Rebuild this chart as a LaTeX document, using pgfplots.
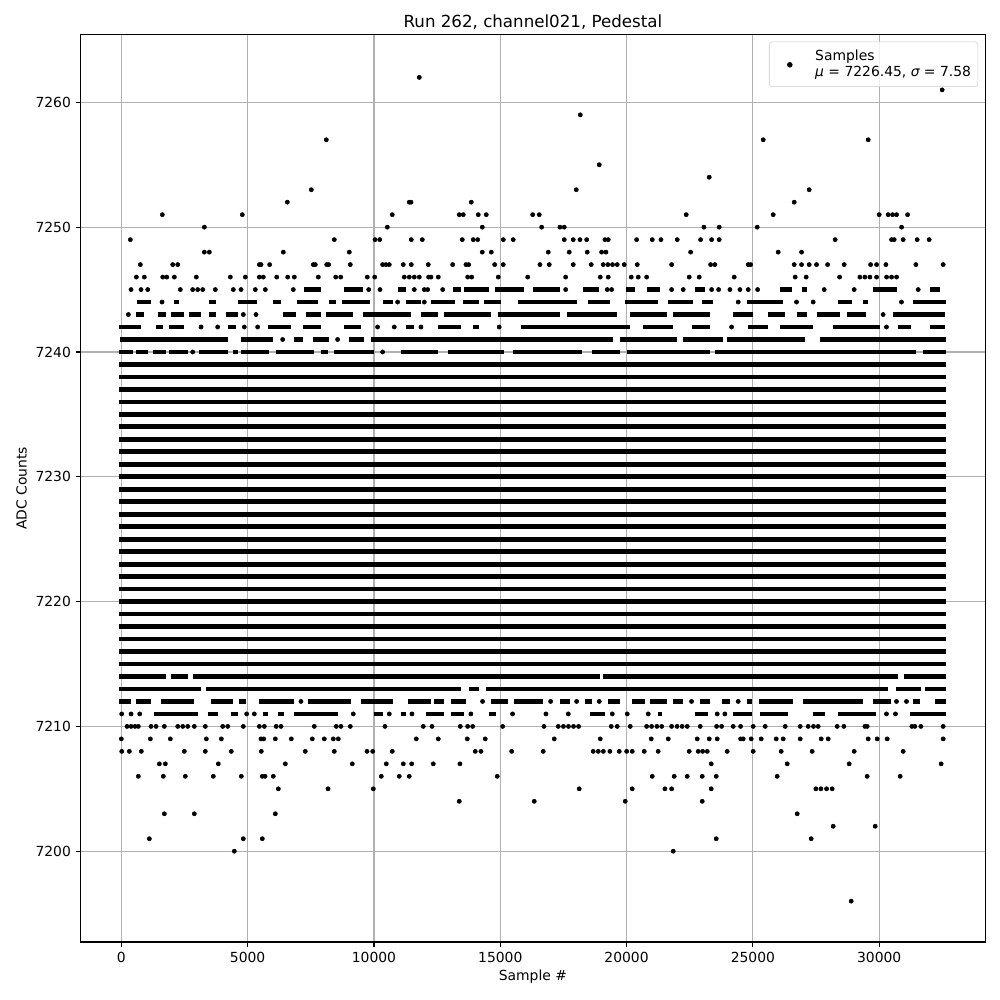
\documentclass[border=0pt]{standalone}
\usepackage{fontspec}
\setmainfont{DejaVu Sans}
\usepackage{pgfplots}
\pgfplotsset{compat=1.18}
\definecolor{gridgray}{HTML}{B0B0B0}
\definecolor{leggray}{HTML}{CCCCCC}
\begin{document}
\begin{tikzpicture}
\begin{axis}[
  name=ax, at={(0,0)}, anchor=south west,
  scale only axis, width=651.3pt, height=653.3pt,
  xmin=-1610, xmax=34195, ymin=7192.73, ymax=7265.42,
  xtick={0,5000,...,30000}, ytick={7200,7210,...,7260},
  scaled x ticks=false, scaled y ticks=false,
  /pgf/number format/1000 sep={},
  /pgf/number format/assume math mode=true,
  tick label style={font=\fontsize{10}{12}\selectfont},
  tick align=outside, major tick length=3.5pt,
  tick style={black, line width=0.8pt},
  axis line style={line width=0.8pt},
  tick pos=left,
  grid=major, major grid style={gridgray, line width=0.8pt},
  title={Run 262, channel021, Pedestal},
  title style={font=\fontsize{12}{14}\selectfont, at={(axis description cs:0.5,1)}, anchor=base, yshift=-1pt},
  xlabel={Sample \#}, ylabel={ADC Counts},
  xlabel style={font=\fontsize{10}{12}\selectfont, at={([yshift=-27.4pt]axis description cs:0.5,0)}, anchor=base},
  ylabel style={font=\fontsize{10}{12}\selectfont, at={([xshift=-38.9pt]axis description cs:0,0.5)}, anchor=base},
  legend style={at={(axis description cs:0.9923,0.9923)}, anchor=north east, draw=leggray, rounded corners=2pt, fill=white, fill opacity=0.8, text opacity=1, font=\fontsize{10}{12}\selectfont, inner ysep=3.6pt, row sep=-1pt},
  legend cell align=left,
]
% dense rows 7215..7239
\addplot[black, line width=3.4pt, no marks, unbounded coords=jump, forget plot] coordinates {
(-94,7215)(32650,7215)(nan,nan)(-94,7216)(32650,7216)(nan,nan)(-94,7217)(32650,7217)(nan,nan)
(-94,7218)(32650,7218)(nan,nan)(-94,7219)(32650,7219)(nan,nan)(-94,7220)(32650,7220)(nan,nan)
(-94,7221)(32650,7221)(nan,nan)(-94,7222)(32650,7222)(nan,nan)(-94,7223)(32650,7223)(nan,nan)
(-94,7224)(32650,7224)(nan,nan)(-94,7225)(32650,7225)(nan,nan)(-94,7226)(32650,7226)(nan,nan)
(-94,7227)(32650,7227)(nan,nan)(-94,7228)(32650,7228)(nan,nan)(-94,7229)(32650,7229)(nan,nan)
(-94,7230)(32650,7230)(nan,nan)(-94,7231)(32650,7231)(nan,nan)(-94,7232)(32650,7232)(nan,nan)
(-94,7233)(32650,7233)(nan,nan)(-94,7234)(32650,7234)(nan,nan)(-94,7235)(32650,7235)(nan,nan)
(-94,7236)(32650,7236)(nan,nan)(-94,7237)(32650,7237)(nan,nan)(-94,7238)(32650,7238)(nan,nan)
(-94,7239)(32650,7239)
};
% partly filled rows
\addplot[black, line width=3.4pt, no marks, unbounded coords=jump, forget plot] coordinates {
(7243,7245)(7903,7245)(nan,nan)(8826,7245)(9554,7245)(nan,nan)(10938,7245)(11266,7245)(nan,nan)(13115,7245)(13443,7245)(nan,nan)
(13575,7245)(14564,7245)(nan,nan)(14802,7245)(15950,7245)(nan,nan)(16306,7245)(17363,7245)(nan,nan)(18285,7245)(18918,7245)(nan,nan)
(19975,7245)(20331,7245)(nan,nan)(20794,7245)(21320,7245)(nan,nan)(22706,7245)(23102,7245)(nan,nan)(26070,7245)(26533,7245)(nan,nan)
(26927,7245)(27125,7245)(nan,nan)(29762,7245)(30688,7245)(nan,nan)(32006,7245)(32401,7245)(nan,nan)
(621,7244)(1175,7244)(nan,nan)(2072,7244)(2296,7244)(nan,nan)(3483,7244)(3747,7244)(nan,nan)(4604,7244)(5369,7244)(nan,nan)
(6016,7244)(6319,7244)(nan,nan)(6952,7244)(7770,7244)(nan,nan)(8232,7244)(8496,7244)(nan,nan)(8733,7244)(9841,7244)(nan,nan)
(10342,7244)(10738,7244)(nan,nan)(11265,7244)(11859,7244)(nan,nan)(12255,7244)(13204,7244)(nan,nan)(13508,7244)(14168,7244)(nan,nan)
(14365,7244)(15025,7244)(nan,nan)(15684,7244)(18022,7244)(nan,nan)(18483,7244)(19341,7244)(nan,nan)(19934,7244)(21253,7244)(nan,nan)
(21649,7244)(22638,7244)(nan,nan)(22968,7244)(23430,7244)(nan,nan)(24749,7244)(26199,7244)(nan,nan)(28376,7244)(28904,7244)(nan,nan)
(29365,7244)(29563,7244)(nan,nan)(31344,7244)(32650,7244)(nan,nan)
(582,7243)(911,7243)(nan,nan)(1439,7243)(1769,7243)(nan,nan)(1967,7243)(2494,7243)(nan,nan)(2692,7243)(3154,7243)(nan,nan)
(3483,7243)(3747,7243)(nan,nan)(4143,7243)(4604,7243)(nan,nan)(6385,7243)(6913,7243)(nan,nan)(7308,7243)(7902,7243)(nan,nan)
(8100,7243)(9155,7243)(nan,nan)(9551,7243)(11463,7243)(nan,nan)(11859,7243)(12518,7243)(nan,nan)(12782,7243)(14629,7243)(nan,nan)
(14893,7243)(17362,7243)(nan,nan)(17626,7243)(19605,7243)(nan,nan)(20132,7243)(21583,7243)(nan,nan)(21847,7243)(23298,7243)(nan,nan)
(24221,7243)(25012,7243)(nan,nan)(25606,7243)(26266,7243)(nan,nan)(26727,7243)(27123,7243)(nan,nan)(27519,7243)(28442,7243)(nan,nan)
(28706,7243)(29497,7243)(nan,nan)(30552,7243)(32600,7243)(nan,nan)
(-94,7242)(779,7242)(nan,nan)(1373,7242)(1637,7242)(nan,nan)(1901,7242)(2494,7242)(nan,nan)(4209,7242)(4538,7242)(nan,nan)
(5791,7242)(6715,7242)(nan,nan)(7177,7242)(7902,7242)(nan,nan)(8825,7242)(9485,7242)(nan,nan)(11265,7242)(11595,7242)(nan,nan)
(12518,7242)(13441,7242)(nan,nan)(13903,7242)(14168,7242)(nan,nan)(15816,7242)(20132,7242)(nan,nan)(20660,7242)(21847,7242)(nan,nan)
(22572,7242)(23298,7242)(nan,nan)(24814,7242)(25606,7242)(nan,nan)(26068,7242)(27387,7242)(nan,nan)(28178,7242)(30024,7242)(nan,nan)
(30750,7242)(31278,7242)(nan,nan)(32003,7242)(32600,7242)(nan,nan)
(-40,7241)(4209,7241)(nan,nan)(4736,7241)(5989,7241)(nan,nan)(6847,7241)(7177,7241)(nan,nan)(7572,7241)(8232,7241)(nan,nan)
(9023,7241)(9617,7241)(nan,nan)(9881,7241)(19473,7241)(nan,nan)(19736,7241)(21979,7241)(nan,nan)(22242,7241)(23825,7241)(nan,nan)
(23957,7241)(27057,7241)(nan,nan)(27651,7241)(32650,7241)(nan,nan)
(-94,7240)(450,7240)(nan,nan)(582,7240)(1043,7240)(nan,nan)(1241,7240)(1769,7240)(nan,nan)(1901,7240)(2626,7240)(nan,nan)
(3088,7240)(4209,7240)(nan,nan)(4407,7240)(4604,7240)(nan,nan)(4736,7240)(5857,7240)(nan,nan)(6121,7240)(7638,7240)(nan,nan)
(7902,7240)(8166,7240)(nan,nan)(8429,7240)(10012,7240)(nan,nan)(11067,7240)(12518,7240)(nan,nan)(12914,7240)(15157,7240)(nan,nan)
(15486,7240)(18219,7240)(nan,nan)(18615,7240)(19736,7240)(nan,nan)(20000,7240)(23298,7240)(nan,nan)(23496,7240)(31476,7240)(nan,nan)
(31740,7240)(32650,7240)(nan,nan)
(-94,7214)(1770,7214)(nan,nan)(1970,7214)(2630,7214)(nan,nan)(2830,7214)(18950,7214)(nan,nan)(19080,7214)(30750,7214)(nan,nan)
(31000,7214)(32650,7214)(nan,nan)
(-94,7213)(3154,7213)(nan,nan)(3351,7213)(13442,7213)(nan,nan)(13772,7213)(14168,7213)(nan,nan)(14431,7213)(30354,7213)(nan,nan)
(30684,7213)(31673,7213)(nan,nan)(31805,7213)(32650,7213)(nan,nan)
(-94,7212)(384,7212)(nan,nan)(582,7212)(1175,7212)(nan,nan)(1571,7212)(2890,7212)(nan,nan)(3549,7212)(4406,7212)(nan,nan)
(4670,7212)(4934,7212)(nan,nan)(5462,7212)(6847,7212)(nan,nan)(7374,7212)(9089,7212)(nan,nan)(9485,7212)(10738,7212)(nan,nan)
(11331,7212)(12255,7212)(nan,nan)(12386,7212)(12782,7212)(nan,nan)(13046,7212)(13640,7212)(nan,nan)(14629,7212)(15288,7212)(nan,nan)
(15552,7212)(16703,7212)(nan,nan)(17362,7212)(17758,7212)(nan,nan)(18351,7212)(18615,7212)(nan,nan)(19275,7212)(19736,7212)(nan,nan)
(20198,7212)(20726,7212)(nan,nan)(20923,7212)(21583,7212)(nan,nan)(21847,7212)(22242,7212)(nan,nan)(22902,7212)(23298,7212)(nan,nan)
(23759,7212)(24089,7212)(nan,nan)(24749,7212)(24946,7212)(nan,nan)(25250,7212)(26595,7212)(nan,nan)(26991,7212)(29365,7212)(nan,nan)
(29761,7212)(30486,7212)(nan,nan)(31344,7212)(31607,7212)(nan,nan)(32201,7212)(32650,7212)(nan,nan)
(1307,7211)(3022,7211)(nan,nan)(3417,7211)(3813,7211)(nan,nan)(4341,7211)(4604,7211)(nan,nan)(5594,7211)(5791,7211)(nan,nan)
(6187,7211)(6451,7211)(nan,nan)(6847,7211)(8561,7211)(nan,nan)(10012,7211)(10342,7211)(nan,nan)(11067,7211)(11265,7211)(nan,nan)
(12057,7211)(12782,7211)(nan,nan)(13046,7211)(13574,7211)(nan,nan)(14563,7211)(14827,7211)(nan,nan)(18549,7211)(19143,7211)(nan,nan)
(21253,7211)(21385,7211)(nan,nan)(22704,7211)(23232,7211)(nan,nan)(24221,7211)(24946,7211)(nan,nan)(25276,7211)(26397,7211)(nan,nan)
(27360,7211)(27848,7211)(nan,nan)(28376,7211)(29893,7211)(nan,nan)(31211,7211)(32650,7211)
};
% individual samples
\addplot[only marks, mark=*, mark size=1.5pt, black, forget plot] coordinates {
(11794,7262)(32493,7261)(18166,7259)(8113,7257)(25409,7257)(29564,7257)(18918,7255)(23272,7254)
(7520,7253)(18008,7253)(27229,7253)
(6570,7252)(11398,7252)(11466,7252)(13852,7252)(26636,7252)
(1623,7251)(4789,7251)(10725,7251)(13377,7251)(13536,7251)(14129,7251)(14446,7251)(16282,7251)(16543,7251)(22361,7251)(25805,7251)(30000,7251)(30356,7251)(30530,7251)(30688,7251)(31123,7251)
(3285,7250)(10528,7250)(14288,7250)(16638,7250)(17363,7250)(17533,7250)(23062,7250)(23667,7250)(25171,7250)(30886,7250)
(356,7249)(8430,7249)(10041,7249)(10227,7249)(11478,7249)(11913,7249)(13496,7249)(13931,7249)(14105,7249)(15119,7249)(15514,7249)(17533,7249)(17889,7249)(18154,7249)(18419,7249)(19144,7249)(19274,7249)(20398,7249)(21016,7249)(21360,7249)(22005,7249)(22931,7249)(23366,7249)(23667,7249)(28258,7249)(30490,7249)(30594,7249)(30950,7249)(31504,7249)(31979,7249)
(3285,7248)(3483,7248)(6412,7248)(9024,7248)(14288,7248)(14644,7248)(16900,7248)(17731,7248)(18443,7248)(19012,7248)(19183,7248)(22535,7248)(26002,7248)(26927,7248)
(752,7247)(2033,7247)(2231,7247)(5462,7247)(5530,7247)(5871,7247)(7599,7247)(7678,7247)(8128,7247)(8207,7247)(9063,7247)(10343,7247)(10475,7247)(10607,7247)(11161,7247)(11478,7247)(12150,7247)(13115,7247)(13642,7247)(13749,7247)(14778,7247)(15119,7247)(16571,7247)(16939,7247)(17889,7247)(18601,7247)(19076,7247)(19260,7247)(19445,7247)(19630,7247)(19907,7247)(20422,7247)(21783,7247)(23327,7247)(23497,7247)(24815,7247)(24910,7247)(26636,7247)(26927,7247)(27229,7247)(27520,7247)(27957,7247)(28614,7247)(29660,7247)(29897,7247)(30265,7247)(31452,7247)(32533,7247)
(594,7246)(910,7246)(1638,7246)(1797,7246)(2098,7246)(2968,7246)(4314,7246)(4908,7246)(5462,7246)(5620,7246)(6150,7246)(6584,7246)(6847,7246)(7797,7246)(8486,7246)(8683,7246)(9736,7246)(10028,7246)(11200,7246)(11398,7246)(11596,7246)(11794,7246)(12164,7246)(12257,7246)(12546,7246)(13709,7246)(13868,7246)(14921,7246)(16085,7246)(17588,7246)(18958,7246)(19274,7246)(20185,7246)(20462,7246)(20794,7246)(22480,7246)(22876,7246)(24261,7246)(26675,7246)(27110,7246)(28432,7246)(29236,7246)(29434,7246)(29632,7246)(29897,7246)(30293,7246)(30490,7246)(30688,7246)
(384,7245)(779,7245)(1044,7245)(2335,7245)(2824,7245)(3022,7245)(3220,7245)(3720,7245)(4433,7245)(4737,7245)(5303,7245)(5699,7245)(6807,7245)(9791,7245)(10239,7245)(11596,7245)(11992,7245)(12126,7245)(12720,7245)(17588,7245)(19235,7245)(19408,7245)(21783,7245)(22243,7245)(23366,7245)(23643,7245)(24091,7245)(24487,7245)(24815,7245)(25187,7245)(27822,7245)(29010,7245)(31544,7245)
(1610,7244)(10936,7244)(11991,7244)(24419,7244)(26727,7244)(27387,7244)(30882,7244)
(278,7243)(4829,7243)(5330,7243)(30156,7243)
(3154,7242)(3813,7242)(4868,7242)(5396,7242)(10144,7242)(10804,7242)(11859,7242)(14958,7242)(24155,7242)(30288,7242)
(6385,7241)(8561,7241)(2824,7240)(10342,7240)
(7110,7212)(14299,7212)(16993,7212)(18022,7212)(18918,7212)(22572,7212)(24419,7212)(30684,7212)(31080,7212)
(14,7211)(384,7211)(727,7211)(4960,7211)(5264,7211)(9181,7211)(10606,7211)(11503,7211)(13837,7211)(15486,7211)(16808,7211)(17692,7211)(19433,7211)(20026,7211)(20857,7211)(23588,7211)(23891,7211)(30288,7211)(30644,7211)
(225,7210)(384,7210)(542,7210)(673,7210)(1175,7210)(1373,7210)(1702,7210)(2231,7210)(2430,7210)(2628,7210)(2889,7210)(3324,7210)(4012,7210)(4210,7210)(4828,7210)(5462,7210)(5660,7210)(6130,7210)(6320,7210)(7638,7210)(8509,7210)(8695,7210)(9063,7210)(10436,7210)(11952,7210)(12297,7210)(13417,7210)(13709,7210)(13907,7210)(15095,7210)(16729,7210)(17295,7210)(17500,7210)(17700,7210)(17900,7210)(18100,7210)(19393,7210)(19630,7210)(20145,7210)(20794,7210)(20990,7210)(21200,7210)(21390,7210)(21783,7210)(22000,7210)(22200,7210)(22401,7210)(22915,7210)(23564,7210)(23762,7210)(24222,7210)(24514,7210)(25013,7210)(25488,7210)(26280,7210)(26873,7210)(27189,7210)(27400,7210)(27585,7210)(28337,7210)(28602,7210)(29434,7210)(29525,7210)(31294,7210)(31412,7210)(31650,7210)(32533,7210)
(0,7209)(1148,7209)(1939,7209)(3364,7209)(3958,7209)(5529,7209)(5636,7209)(6095,7209)(6728,7209)(7559,7209)(8034,7209)(8390,7209)(8588,7209)(11675,7209)(12546,7209)(13694,7209)(14406,7209)(17137,7209)(18958,7209)(20976,7209)(21649,7209)(22797,7209)(23272,7209)(23588,7209)(24514,7209)(24617,7209)(24934,7209)(25329,7209)(25923,7209)(26200,7209)(26873,7209)(27704,7209)(27981,7209)(29564,7209)(29921,7209)(30317,7209)(32533,7209)
(15,7208)(317,7208)(792,7208)(2493,7208)(3324,7208)(4353,7208)(5541,7208)(7282,7208)(8430,7208)(9724,7208)(9950,7208)(10725,7208)(14010,7208)(14236,7208)(15451,7208)(16702,7208)(18680,7208)(18880,7208)(19080,7208)(19340,7208)(19710,7208)(20002,7208)(20224,7208)(20699,7208)(21253,7208)(22480,7208)(22836,7208)(23010,7208)(23193,7208)(23984,7208)(25013,7208)(26121,7208)(27348,7208)(29010,7208)(30950,7208)
(1504,7207)(1741,7207)(3839,7207)(6491,7207)(9142,7207)(10488,7207)(11161,7207)(11493,7207)(12348,7207)(13404,7207)(23351,7207)(26359,7207)(28812,7207)(32453,7207)
(673,7206)(1662,7206)(2533,7206)(3641,7206)(4749,7206)(5580,7206)(5688,7206)(6016,7206)(10290,7206)(11002,7206)(11398,7206)(14881,7206)(21016,7206)(21886,7206)(22401,7206)(22995,7206)(23549,7206)(25963,7206)(29525,7206)(30830,7206)
(6214,7205)(8181,7205)(9974,7205)(18126,7205)(20224,7205)(21518,7205)(21783,7205)(23351,7205)(27494,7205)(27692,7205)(27917,7205)(28139,7205)
(13377,7204)(16345,7204)(19947,7204)(22995,7204)
(1702,7203)(2889,7203)(6095,7203)(26755,7203)
(28179,7202)(29842,7202)
(1108,7201)(4828,7201)(5580,7201)(23549,7201)(27308,7201)
(4472,7200)(21847,7200)
(28892,7196)
};
\addlegendimage{legend image code/.code={\path[draw=none,fill=none] (0pt,0pt) -- (28.1pt,0pt); \fill[black, fill opacity=1, overlay] (11.8pt,-6.3pt) circle (1.75pt);}}
\addlegendentry{Samples}
\addlegendimage{legend image code/.code={\path[draw=none,fill=none] (0pt,0pt) -- (28.1pt,0pt);}}
\addlegendentry{{\itshape μ} = 7226.45, {\itshape σ} = 7.58}
\end{axis}
\pgfresetboundingbox
\path[use as bounding box] ([xshift=-58.1pt,yshift=-41.8pt]ax.south west) rectangle ([xshift=10.6pt,yshift=25pt]ax.north east);
\end{tikzpicture}
\end{document}
